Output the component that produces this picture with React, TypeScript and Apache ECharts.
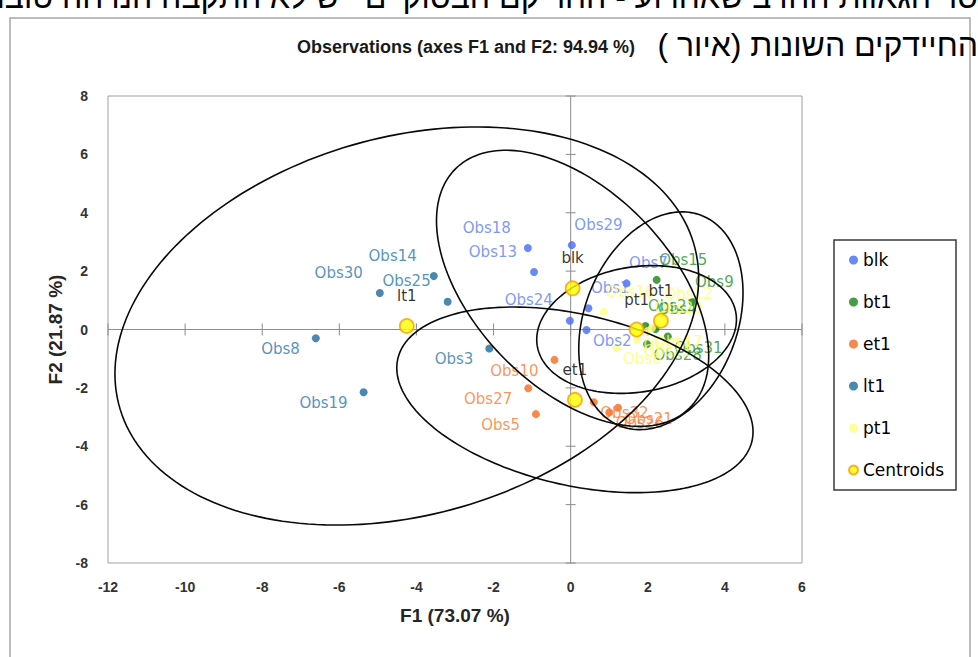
import React, { useEffect, useRef } from "react";
import * as echarts from "echarts";

// ---------- data ----------
const xTicks = [-12, -10, -8, -6, -4, -2, 0, 2, 4, 6];
const yTicks = [-8, -6, -4, -2, 0, 2, 4, 6, 8];

const groupNames = ["blk", "bt1", "et1", "lt1", "pt1"];

const blkNames = ["Obs29", "Obs18", "Obs13", "Obs7", "Obs1", "Obs24", "Obs2"];
const blkX = [0.03, -1.11, -0.95, 1.45, 0.46, -0.02, 0.41];
const blkY = [2.89, 2.79, 1.97, 1.58, 0.73, 0.3, -0.02];

const bt1Names = ["Obs15", "Obs9", "Obs23", "Obs4", "Obs31", "Obs28"];
const bt1X = [2.23, 3.16, 1.94, 2.2, 2.52, 1.98];
const bt1Y = [1.7, 0.94, 0.12, 0.02, -0.24, -0.5];

const et1Names = ["Obs10", "Obs27", "Obs5", "Obs32", "Obs26", "Obs21"];
const et1X = [-0.42, -1.1, -0.9, 0.6, 1.0, 1.23];
const et1Y = [-1.04, -2.01, -2.9, -2.49, -2.84, -2.68];

const lt1Names = ["Obs30", "Obs14", "Obs25", "Obs8", "Obs3", "Obs19"];
const lt1X = [-4.95, -3.55, -3.19, -6.61, -2.11, -5.37];
const lt1Y = [1.25, 1.83, 0.95, -0.3, -0.65, -2.15];

const pt1Names = ["Obs16", "Obs12", "Obs20", "Obs17", "Obs6", "Obs11", "Obs22"];
const pt1X = [0.86, 2.37, 2.11, 2.0, 1.19, 1.72, 1.72];
const pt1Y = [0.61, 0.53, 0.05, -0.05, -0.64, -0.15, -0.35];

const centroidNames = ["blk", "bt1", "et1", "lt1", "pt1"];
const centroidX = [0.05, 2.34, 0.11, -4.25, 1.71];
const centroidY = [1.41, 0.3, -2.41, 0.12, 0.0];

// confidence ellipses (centred on centroids): half extent in x, half extent in y, correlation
const ellipseSx = [3.53, 2.13, 4.62, 7.57, 2.59];
const ellipseSy = [4.73, 3.73, 3.18, 6.82, 2.19];
const ellipseR = [-0.49, 0.257, -0.344, 0.24, 0.157];

// ---------- styles ----------
const labelSide: Record<string, string[]> = {
  blk: ["ur", "ul", "ul", "ur", "ur", "ul", "lr"],
  bt1: ["ur", "ur", "ur", "ur", "lr", "lr"],
  et1: ["ll", "ll", "ll", "lr", "lr", "lr"],
  lt1: ["ul", "ul", "ul", "ll", "ll", "ll"],
  pt1: ["ur", "ur", "ur", "lr", "lr", "lr", "lr"],
};
const SIDE: Record<string, { align: string; offset: number[] }> = {
  ur: { align: "left", offset: [2.5, -20] },
  ul: { align: "right", offset: [-17, -20.5] },
  lr: { align: "left", offset: [6.5, 11] },
  ll: { align: "right", offset: [-16, 11] },
};
const pointColors = ["#456cf4", "#1b821b", "#f76a1c", "#1d6a9c", "#ffff80"];
const labelColors = ["#5b7ef8", "#24922a", "#fb7a30", "#2978ad", "#ffff70"];

const titleText = "Observations (axes F1 and F2: 94.94 %)";
const hebrewText = "החיידקים השונות (איור )\u200F";
const hebrewTop = "סר הגאוות החדב שאחרוע - החריקם הבסוקיים ייש לא התקבה הנרחה טובה.\u200F";

export default function App() {
  const ref = useRef<HTMLDivElement>(null);
  useEffect(() => {
    document.body.style.margin = "0";
    if (!ref.current) return;
    const chart = echarts.init(ref.current, undefined, { renderer: "svg" });

    const groupX = [blkX, bt1X, et1X, lt1X, pt1X];
    const groupY = [blkY, bt1Y, et1Y, lt1Y, pt1Y];
    const groupN = [blkNames, bt1Names, et1Names, lt1Names, pt1Names];

    const scatter = groupNames.map((g, gi) => ({
      name: g,
      type: "scatter",
      symbol: "circle",
      symbolSize: 8,
      z: 3,
      itemStyle: { color: pointColors[gi] },
      emphasis: { disabled: true },
      label: {
        show: true,
        formatter: "{b}",
        color: labelColors[gi],
        fontFamily: "DejaVu Sans",
        fontSize: 15,
        position: ["50%", "50%"],
        verticalAlign: "middle",
      },
      data: groupN[gi].map((n, i) => {
        const s = SIDE[labelSide[g][i]];
        return {
          name: n,
          value: [groupX[gi][i], groupY[gi][i]],
          label: { align: s.align, offset: s.offset },
        };
      }),
    }));

    const ellipses = {
      type: "custom",
      name: "ellipses",
      silent: true,
      z: 4,
      data: centroidX.map((cx, i) => [cx, centroidY[i], ellipseSx[i], ellipseSy[i], ellipseR[i]]),
      renderItem: (params: any, api: any) => {
        const cx = api.value(0), cy = api.value(1), sx = api.value(2), sy = api.value(3), r = api.value(4);
        const k = Math.sqrt(1 - r * r);
        const pts: number[][] = [];
        for (let j = 0; j <= 200; j++) {
          const t = (j / 200) * Math.PI * 2;
          pts.push(api.coord([cx + sx * Math.cos(t), cy + sy * (r * Math.cos(t) + k * Math.sin(t))]));
        }
        return {
          type: "polyline",
          shape: { points: pts },
          style: { stroke: "#0a0a0a", lineWidth: 1.6, fill: null },
        };
      },
    };

    const zeroAxes = {
      type: "custom",
      name: "zeroAxes",
      silent: true,
      z: 1,
      data: [[0, 0]],
      renderItem: (params: any, api: any) => {
        const st = { stroke: "#8c8c8c", lineWidth: 1 };
        const children: any[] = [];
        const a = api.coord([xTicks[0], 0]);
        const b = api.coord([xTicks[xTicks.length - 1], 0]);
        children.push({ type: "line", shape: { x1: a[0], y1: a[1], x2: b[0], y2: b[1] }, style: st });
        const c = api.coord([0, yTicks[0]]);
        const d = api.coord([0, yTicks[yTicks.length - 1]]);
        children.push({ type: "line", shape: { x1: c[0], y1: c[1], x2: d[0], y2: d[1] }, style: st });
        xTicks.forEach((v) => {
          const p = api.coord([v, 0]);
          children.push({ type: "line", shape: { x1: p[0], y1: p[1] - 6, x2: p[0], y2: p[1] + 6 }, style: st });
        });
        yTicks.forEach((v) => {
          const p = api.coord([0, v]);
          children.push({ type: "line", shape: { x1: p[0] - 5, y1: p[1], x2: p[0] + 5, y2: p[1] }, style: st });
        });
        return { type: "group", children };
      },
    };

    const centroids = {
      name: "Centroids",
      type: "scatter",
      symbol: "circle",
      symbolSize: 14,
      z: 6,
      emphasis: { disabled: true },
      itemStyle: { color: "#ffff00", borderColor: "#ff9a00", borderWidth: 1.8 },
      label: {
        show: true,
        formatter: "{b}",
        color: "#000",
        fontFamily: "DejaVu Sans",
        fontSize: 15,
        position: ["50%", "50%"],
        align: "center",
        verticalAlign: "middle",
        offset: [0, -30],
      },
      data: centroidNames.map((n, i) => ({ name: n, value: [centroidX[i], centroidY[i]] })),
    };

    const axisLabel = { fontFamily: "Liberation Sans", fontWeight: "bold", fontSize: 14, color: "#333" };
    const nameStyle = { fontFamily: "Liberation Sans", fontWeight: "bold", fontSize: 19, color: "#262626" };

    chart.setOption({
      animation: false,
      grid: { left: 108, top: 96, right: 176, bottom: 94, show: true, borderColor: "#a0a0a0", borderWidth: 1, backgroundColor: "transparent" },
      xAxis: {
        type: "value", min: -12, max: 6, interval: 2,
        axisLine: { show: false, onZero: false }, axisTick: { show: false }, splitLine: { show: false },
        axisLabel: { ...axisLabel, margin: 17 },
        name: "F1 (73.07 %)", nameLocation: "middle", nameGap: 43, nameTextStyle: nameStyle,
      },
      yAxis: {
        type: "value", min: -8, max: 8, interval: 2,
        axisLine: { show: false, onZero: false }, axisTick: { show: false }, splitLine: { show: false },
        axisLabel: { ...axisLabel, margin: 20 },
        name: "F2 (21.87 %)", nameLocation: "middle", nameGap: 37, nameTextStyle: nameStyle,
      },
      legend: {
        data: ["blk", "bt1", "et1", "lt1", "pt1", "Centroids"],
        orient: "vertical", left: 848, top: 250, padding: 0, itemWidth: 9, itemHeight: 9, itemGap: 22,
        icon: "circle", selectedMode: false,
        textStyle: { fontFamily: "DejaVu Sans", fontSize: 17, color: "#000", lineHeight: 20 },
      },
      graphic: [
        { type: "rect", z: -10, shape: { x: 10, y: 18, width: 960, height: 660 }, style: { fill: "#fff", stroke: "#a6a6a6", lineWidth: 1.5 } },
        { type: "rect", shape: { x: 834, y: 240, width: 122, height: 250 }, style: { fill: "none", stroke: "#3a3a3a", lineWidth: 1.5 } },
        { type: "text", x: 466, y: 47, style: { text: titleText, font: 'bold 18px "Liberation Sans"', fill: "#1a1a1a", align: "center", verticalAlign: "middle" } },
        { type: "text", x: 978, y: 45, style: { text: hebrewText, font: '32px "Liberation Sans"', fill: "#000", align: "right", verticalAlign: "middle" } },
        { type: "text", x: 978, y: -3, style: { text: hebrewTop, font: '32px "Liberation Sans"', fill: "#000", align: "right", verticalAlign: "middle" } },
      ],
      series: [zeroAxes, ...scatter, ellipses, centroids],
    });
    return () => chart.dispose();
  }, []);
  return <div ref={ref} style={{ position: "fixed", left: 0, top: 0, width: 978, height: 657, background: "#fff" }} />;
}
